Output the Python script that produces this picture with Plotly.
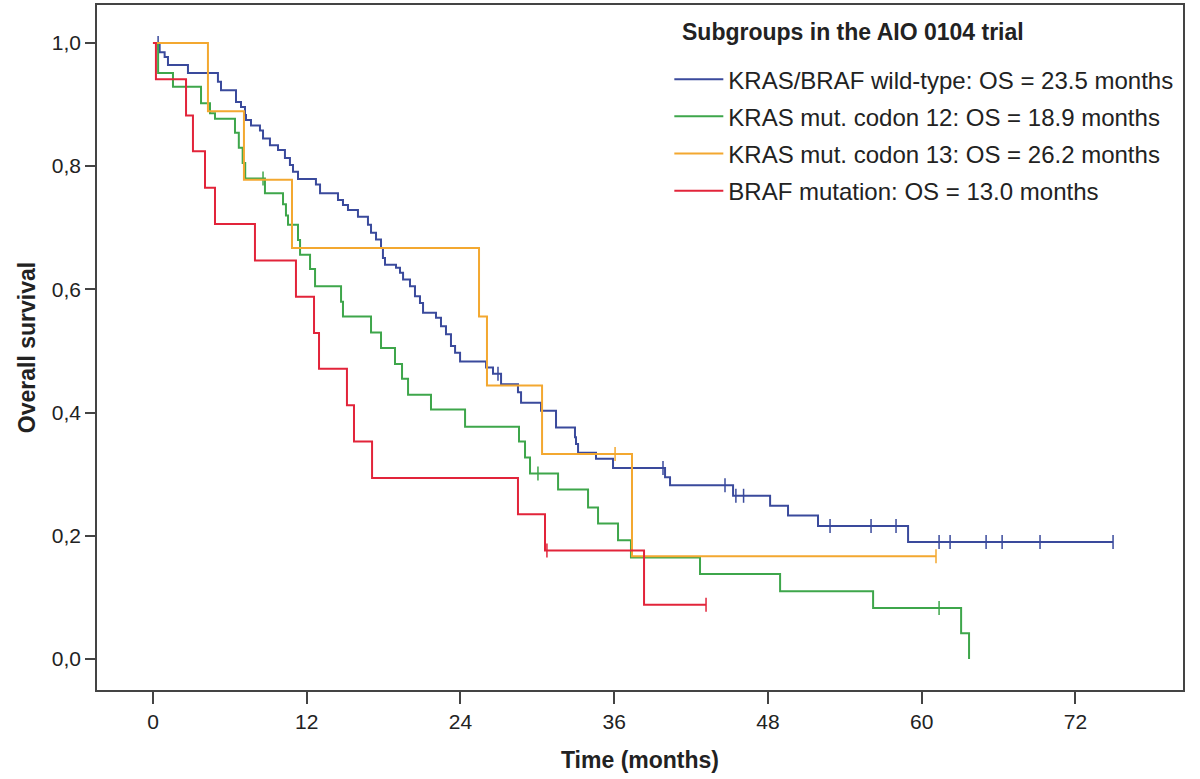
import numpy as np
import plotly.graph_objects as go

# ---------------- data ----------------
# KRAS/BRAF wild-type
times_wt = [0, 0.52, 0.91, 1.17, 2.73, 5.07, 5.31, 6.48, 6.87, 7.18, 7.26, 7.65, 8.35, 8.59, 9.13,
            9.76, 10.30, 10.69, 10.93, 11.32, 12.72, 13.04, 14.44, 14.83, 15.22, 16.00, 16.78, 17.02,
            17.41, 17.80, 17.95, 18.11, 18.97, 19.28, 19.52, 20.06, 20.45, 20.84, 21.08, 22.09, 22.48,
            22.87, 23.26, 23.58, 23.97, 26.00, 26.54, 27.17, 28.49, 28.73, 30.29, 31.46, 32.94, 33.02,
            33.18, 34.58, 35.91, 39.97, 40.36, 45.28, 48.17, 49.57, 51.91, 58.94]
surv_wt = [1.0, 0.985, 0.977, 0.964, 0.951, 0.937, 0.923, 0.904, 0.896, 0.883, 0.875, 0.866, 0.858,
           0.845, 0.834, 0.826, 0.813, 0.802, 0.791, 0.779, 0.770, 0.756, 0.745, 0.737, 0.729, 0.718,
           0.705, 0.692, 0.681, 0.667, 0.651, 0.640, 0.635, 0.627, 0.616, 0.605, 0.589, 0.578, 0.562,
           0.554, 0.540, 0.527, 0.508, 0.497, 0.483, 0.473, 0.463, 0.446, 0.433, 0.416, 0.403, 0.376,
           0.360, 0.349, 0.335, 0.325, 0.310, 0.295, 0.282, 0.265, 0.249, 0.233, 0.216, 0.190]
censor_wt = [0.4, 26.93, 39.81, 44.65, 45.5, 46.1, 52.85, 56.05, 58.0, 61.36, 62.22, 65.03, 66.28,
             69.24, 74.94]

# KRAS mut. codon 12
times_c12 = [0, 0.4, 1.56, 3.75, 4.45, 4.84, 6.40, 6.70, 7.00, 7.20, 8.74, 10.15, 10.38, 10.54,
             11.32, 11.48, 12.26, 12.65, 14.68, 14.83, 17.02, 17.80, 18.89, 19.44, 19.91, 21.70,
             24.36, 28.57, 29.04, 29.43, 31.62, 33.96, 34.74, 36.30, 37.31, 42.70, 48.95, 56.21,
             63.08, 63.70]
surv_c12 = [1.0, 0.951, 0.929, 0.902, 0.886, 0.877, 0.854, 0.830, 0.805, 0.780, 0.756, 0.738, 0.720,
            0.705, 0.680, 0.656, 0.633, 0.605, 0.580, 0.556, 0.530, 0.505, 0.479, 0.455, 0.429, 0.405,
            0.377, 0.353, 0.327, 0.301, 0.275, 0.246, 0.220, 0.193, 0.165, 0.138, 0.110, 0.083,
            0.042, 0.0]
censor_c12 = [8.59, 30.05, 61.36]

# KRAS mut. codon 13
times_c13 = [0, 4.29, 7.10, 10.85, 25.45, 26.07, 30.37, 37.39]
surv_c13 = [1.0, 0.889, 0.778, 0.667, 0.556, 0.444, 0.333, 0.167]
censor_c13 = [36.07, 61.12]

# BRAF mutation
times_braf = [0, 0.23, 2.58, 3.12, 4.06, 4.84, 7.96, 11.16, 12.57, 12.96, 15.14, 15.69, 17.10,
              28.49, 30.60, 38.33]
surv_braf = [1.0, 0.941, 0.882, 0.824, 0.765, 0.706, 0.647, 0.588, 0.529, 0.471, 0.412, 0.353,
             0.294, 0.235, 0.176, 0.088]
censor_braf = [30.75, 43.17]

group_names = [
    "KRAS/BRAF wild-type: OS = 23.5 months",
    "KRAS mut. codon 12: OS = 18.9 months",
    "KRAS mut. codon 13: OS = 26.2 months",
    "BRAF mutation: OS = 13.0 months",
]
x_ticks = [0, 12, 24, 36, 48, 60, 72]
y_ticks = [0.0, 0.2, 0.4, 0.6, 0.8, 1.0]
legend_title = "Subgroups in the AIO 0104 trial"

# ---------------- styling ----------------
colors = ["#3a4a9c", "#3ea64b", "#f3a830", "#e2243a"]
FONT = "Liberation Sans, Arial, sans-serif"
TXT = "#222222"

groups = [
    (times_wt, surv_wt, censor_wt),
    (times_c12, surv_c12, censor_c12),
    (times_c13, surv_c13, censor_c13),
    (times_braf, surv_braf, censor_braf),
]

fig = go.Figure()
for i, ((t, s, c), name, col) in enumerate(zip(groups, group_names, colors)):
    t = np.asarray(t, float)
    s = np.asarray(s, float)
    c = np.asarray(c, float)
    xs, ys = list(t), list(s)
    if len(c) and c.max() > t[-1]:
        xs.append(c.max())
        ys.append(s[-1])
    fig.add_trace(go.Scatter(
        x=xs, y=ys, mode="lines", line=dict(color=col, width=2, shape="hv"),
        name=name, legendgroup=f"g{i}", legendrank=i + 1,
    ))
    idx = np.searchsorted(t, c, side="right") - 1
    fig.add_trace(go.Scatter(
        x=c, y=s[idx], mode="markers", showlegend=False, legendgroup=f"g{i}",
        marker=dict(symbol="line-ns", size=10, line=dict(color=col, width=1.5)),
        hoverinfo="skip",
    ))

fig.update_layout(
    width=1200, height=779,
    margin=dict(l=97, r=17, t=3, b=89),
    paper_bgcolor="white", plot_bgcolor="white",
    separators=",.",
    font=dict(family=FONT, color=TXT, size=21),
    showlegend=True,
    legend=dict(
        x=0.527, y=0.924, xanchor="left", yanchor="top",
        bgcolor="rgba(0,0,0,0)", borderwidth=0,
        font=dict(family=FONT, size=24, color=TXT),
        tracegroupgap=3, itemwidth=49, traceorder="grouped",
    ),
    annotations=[dict(
        text="<b>" + legend_title + "</b>", xref="paper", yref="paper",
        x=0.537, y=0.961, xanchor="left", yanchor="middle", showarrow=False,
        font=dict(family=FONT, size=23, color=TXT),
    )],
)

fig.update_xaxes(
    range=[-4.37, 80.4], tickvals=x_ticks, ticks="outside", ticklen=12, tickwidth=1.5,
    tickcolor="#444", showline=True, linecolor="#444", linewidth=1.5, mirror=True,
    showgrid=False, zeroline=False, tickfont=dict(size=21, color=TXT),
    title=dict(text="<b>Time (months)</b>", font=dict(size=23, color=TXT), standoff=20),
)
fig.update_yaxes(
    range=[-0.0502, 1.0615], tickvals=y_ticks, tickformat=".1f", ticks="outside", ticklen=10,
    tickwidth=1.5, tickcolor="#444", showline=True, linecolor="#444", linewidth=1.5, mirror=True,
    showgrid=False, zeroline=False, tickfont=dict(size=21, color=TXT),
    title=dict(text="<b>Overall survival</b>", font=dict(size=23, color=TXT), standoff=10),
)

fig.write_html("out.html")
